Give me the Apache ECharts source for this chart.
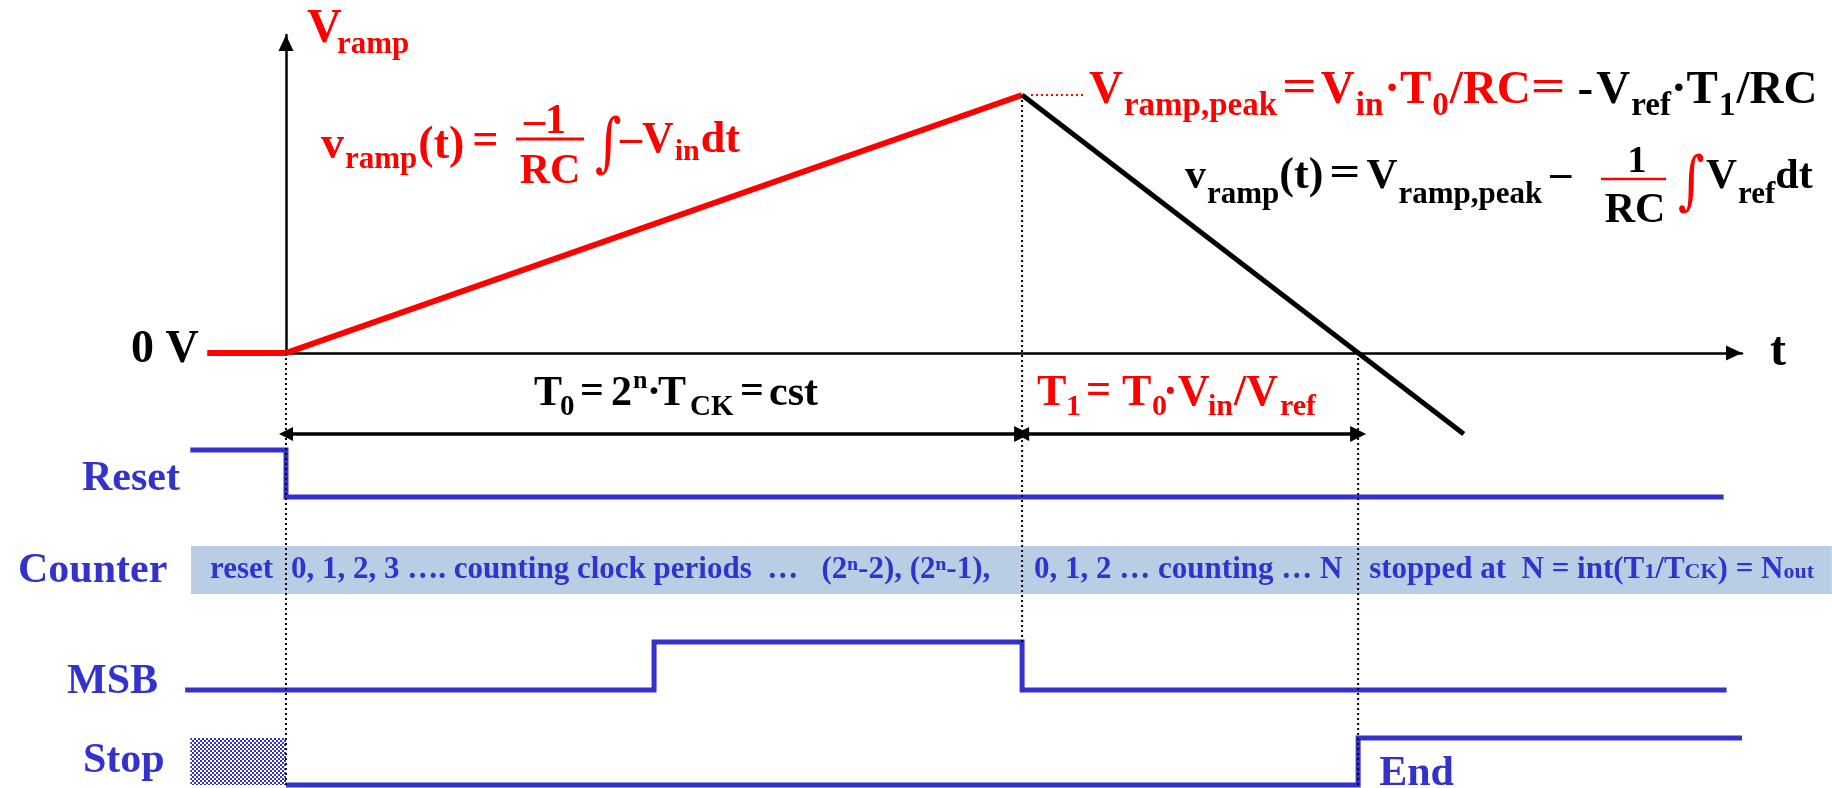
<!DOCTYPE html>
<html>
<head>
<meta charset="utf-8">
<script src="https://cdn.jsdelivr.net/npm/echarts@6/dist/echarts.min.js"></script>
<style>
  html, body { margin: 0; padding: 0; background: #ffffff; }
  #chart { width: 1832px; height: 788px; }
</style>
</head>
<body>
<div id="chart"></div>
<script>
// ---- Timing of a dual-slope ADC (time unit: T0 = 1) ----
const T0 = 1;
const T1 = 0.4565;                 // de-integration time T1 = T0 * Vin / Vref
const T_MIN = -0.15;
const T_AXIS_END = 1.978;

// integrator output, normalised to Vramp,peak = 1
const chargeT = [-0.107, 0, 1];
const chargeV = [0, 0, 1];
const dischargeT = [1, 1.6];
const dischargeV = [1, -0.314];

// digital signals (0 = low, 1 = high)
const resetT = [-0.13, 0, 1.953];
const resetLevel = [1, 0, 0];
const msbT = [-0.137, 0.5, 1, 1.957];
const msbLevel = [0, 1, 0, 0];
const stopT = [0, 1.4565, 1.978];
const stopLevel = [0, 1, 1];
const stopUnknownSpan = [-0.13, 0];

// counter contents per phase
const counterSpan = [-0.129, 2.1];
const counterPhaseStart = [-0.129, 0, 1, 1.4565];
const counterPhaseText = [
  [['reset']],
  [['0, 1, 2, 3 …. counting clock periods  …   (2ⁿ-2), (2ⁿ-1),']],
  [['0, 1, 2 … counting … N']],
  [['stopped at  N = int(T'], ['1', 1], ['/T'], ['CK', 1], [') = N'], ['out', 1]]
];

const signalNames = ['Reset', 'Counter', 'MSB', 'Stop'];
const endLabel = 'End';

// ---- styling ----
const SERIF = '"Liberation Serif", "Times New Roman", serif';
const RED = '#ff0000', BLUE = '#3333cc', BLACK = '#000000', BAND = '#b9cde5';

const pairs = (xs, ys) => xs.map((x, i) => [x, ys[i]]);

const chart = echarts.init(document.getElementById('chart'), null, { renderer: 'canvas' });

// axes grid starts at t = 0; data grids share the same scale but reach back to T_MIN
const AXIS_L = 286, GRID_R = 90;
const PX_PER_T = (1832 - AXIS_L - GRID_R) / T_AXIS_END;
const DATA_L = AXIS_L + T_MIN * PX_PER_T;
const RAMP_BOX = { top: 35, bottom: 435 };
const grids = [
  Object.assign({ left: AXIS_L, right: GRID_R }, RAMP_BOX),          // 0: ramp axes
  Object.assign({ left: DATA_L, right: GRID_R }, RAMP_BOX),          // 1: ramp curves
  { left: DATA_L, right: GRID_R, top: 450, height: 47 },             // 2: reset
  { left: DATA_L, right: GRID_R, top: 546, height: 48 },             // 3: counter
  { left: DATA_L, right: GRID_R, top: 642, height: 48 },             // 4: msb
  { left: DATA_L, right: GRID_R, top: 738, height: 47 }              // 5: stop
];
const G = { axes: 0, ramp: 1, reset: 2, counter: 3, msb: 4, stop: 5 };
const V_MAX = 1.2326;

const hidden = { axisTick: { show: false }, axisLabel: { show: false }, splitLine: { show: false } };
const arrowLine = {
  show: true, onZero: true,
  symbol: ['none', 'triangle'], symbolSize: [15, 16], symbolOffset: [0, -8],
  lineStyle: { color: BLACK, width: 2.5 }
};
const xAxes = grids.map((g, i) => Object.assign({
  type: 'value', gridIndex: i, min: i === 0 ? 0 : T_MIN, max: T_AXIS_END,
  show: i === 0, axisLine: i === 0 ? arrowLine : { show: false }
}, hidden));
const yAxes = grids.map((g, i) => Object.assign({
  type: 'value', gridIndex: i, min: 0, max: i <= 1 ? V_MAX : 1,
  show: i === 0, axisLine: i === 0 ? arrowLine : { show: false }
}, hidden));

// dimension line level, below the time axis
const DIM_LEVEL = -0.314;

// checkered fill for the undefined Stop state
const pat = document.createElement('canvas');
pat.width = 4; pat.height = 4;
const pctx = pat.getContext('2d');
pctx.fillStyle = '#ffffff'; pctx.fillRect(0, 0, 4, 4);
pctx.fillStyle = BLUE; pctx.fillRect(0, 0, 2, 2); pctx.fillRect(2, 2, 2, 2);

function spanRect(fill) {
  return function (params, api) {
    const a = api.coord([api.value(0), 0]);
    const b = api.coord([api.value(1), 1]);
    return { type: 'rect', shape: { x: a[0], y: b[1], width: b[0] - a[0], height: a[1] - b[1] }, style: { fill: fill } };
  };
}

const lineSeries = (gi, data, color, width, extra) => Object.assign({
  type: 'line', xAxisIndex: gi, yAxisIndex: gi, data: data, symbol: 'none', clip: false, silent: true,
  lineStyle: { color: color, width: width, cap: 'butt', join: 'miter' }
}, extra || {});

chart.setOption({
  animation: false,
  grid: grids,
  xAxis: xAxes,
  yAxis: yAxes,
  series: [
    { type: 'custom', xAxisIndex: G.counter, yAxisIndex: G.counter, clip: false, silent: true, z: 1,
      data: [counterSpan], renderItem: spanRect(BAND) },
    { type: 'custom', xAxisIndex: G.stop, yAxisIndex: G.stop, clip: false, silent: true, z: 1,
      data: [stopUnknownSpan], renderItem: spanRect({ image: pat, repeat: 'repeat' }) },
    lineSeries(G.ramp, pairs(chargeT, chargeV), RED, 6),
    lineSeries(G.ramp, pairs(dischargeT, dischargeV), BLACK, 5),
    lineSeries(G.ramp, [[T0 + 0.012, 1], [T0 + 0.084, 1]], RED, 2, { lineStyle: { color: RED, width: 2, type: [2, 3] } }),
    lineSeries(G.reset, pairs(resetT, resetLevel), BLUE, 5, { step: 'end' }),
    lineSeries(G.msb, pairs(msbT, msbLevel), BLUE, 5, { step: 'end' }),
    lineSeries(G.stop, pairs(stopT, stopLevel), BLUE, 5, { step: 'end' }),
    { type: 'lines', coordinateSystem: 'cartesian2d', xAxisIndex: G.ramp, yAxisIndex: G.ramp, clip: false, silent: true,
      symbol: ['triangle', 'triangle'], symbolSize: [14, 16],
      lineStyle: { color: BLACK, width: 3.5, opacity: 1, curveness: 0 },
      data: [
        { coords: [[0, DIM_LEVEL], [T0, DIM_LEVEL]] },
        { coords: [[T0, DIM_LEVEL], [T0 + T1, DIM_LEVEL]] }
      ] }
  ]
});

// ---- annotations ----
const mctx = document.createElement('canvas').getContext('2d');
const fontOf = (size, weight, family) => `${weight || 'bold'} ${size}px ${family || SERIF}`;
function measure(text, font) {
  mctx.font = font;
  mctx.textBaseline = 'alphabetic';
  const m = mctx.measureText(text);
  const asc = m.fontBoundingBoxAscent;
  mctx.textBaseline = 'middle';
  const mid = mctx.measureText(text).fontBoundingBoxAscent;
  mctx.textBaseline = 'alphabetic';
  return { width: m.width, off: (asc != null && mid != null) ? asc - mid : 0.3375 * parseFloat(font.match(/(\d+)px/)[1]) };
}
const gfx = [];
// text placed on an alphabetic baseline; returns the x where it ends
function put(text, x, base, size, color, opt) {
  opt = opt || {};
  const font = fontOf(size, opt.weight, opt.family);
  const m = measure(text, font);
  const sx = opt.sx || 1;
  gfx.push({ type: 'text', x: x, y: base - m.off, z: 50, silent: true, scaleX: sx,
    style: { text: text, font: font, fill: color, align: opt.align || 'left', verticalAlign: 'middle' } });
  return x + m.width * sx;
}
// run of pieces: [text, size, baseline, color, gapBefore, opt]
function chain(x, items) {
  items.forEach(it => { x = put(it[0], x + (it[4] || 0), it[2], it[1], it[3], it[5]); });
  return x;
}
function hline(x1, x2, y, color, w, dash) {
  gfx.push({ type: 'line', z: 40, silent: true, shape: { x1: x1, y1: y, x2: x2, y2: y },
    style: { stroke: color, lineWidth: w, lineDash: dash || null } });
}
function vline(x, y1, y2, color, w, dash) {
  gfx.push({ type: 'line', z: 40, silent: true, shape: { x1: x, y1: y1, x2: x, y2: y2 },
    style: { stroke: color, lineWidth: w, lineDash: dash || null } });
}
function integral(cx, cy, size, color) {
  gfx.push({ type: 'text', x: cx, y: cy, z: 50, silent: true, scaleX: 0.8,
    style: { text: '∫', font: `normal ${size}px "DejaVu Serif", serif`, fill: color, align: 'center', verticalAlign: 'middle' } });
}

const px = (grid, pt) => chart.convertToPixel({ gridIndex: grid }, pt);

// dotted timing guides
const dash = [2, 3];
const g0 = px(G.ramp, [0, 0]), gBottom = px(G.stop, [0, 0]);
vline(g0[0], g0[1], gBottom[1], BLACK, 2, dash);
const gPeak = px(G.ramp, [T0, 1]), gMsbHigh = px(G.msb, [T0, 1]);
vline(gPeak[0], gPeak[1], gMsbHigh[1], BLACK, 2, dash);
const gEnd = px(G.ramp, [T0 + T1, 0]);
vline(gEnd[0], gEnd[1], gBottom[1], BLACK, 2, dash);

// axis labels
put('V', 307, 42, 48, RED);
put('ramp', 337, 53, 31, RED);
put('0 V', 131, 362, 46, BLACK);
put('t', 1770, 365, 48, BLACK);

// vramp(t) = -1/RC ∫ -Vin dt
chain(321, [
  ['v', 46, 158, RED], ['ramp', 31, 168, RED, 1], ['(t)', 46, 158, RED, 1], ['=', 46, 154, RED, 8]
]);
put('–1', 545, 133, 42, RED, { align: 'center' });
hline(516, 584, 139, RED, 3);
put('RC', 550, 183, 42, RED, { align: 'center' });
integral(608, 147, 64, RED);
chain(620, [['–V', 44, 152, RED], ['in', 30, 160, RED, 1], ['dt', 44, 152, RED, 1]]);

// Vramp,peak = Vin·T0/RC = -Vref·T1/RC
chain(1089, [
  ['V', 47, 103, RED], ['ramp,peak', 33, 115, RED, 1],
  ['=', 47, 101, RED, 5, { sx: 1.3 }],
  ['V', 47, 103, RED, 4], ['in', 33, 115, RED, 1], ['·T', 47, 103, RED, 1], ['0', 33, 115, RED, 1],
  ['/RC', 47, 103, RED, 1], ['=', 47, 101, RED, 0, { sx: 1.3 }],
  ['-', 47, 103, BLACK, 12], ['V', 47, 103, BLACK, 3], ['ref', 33, 115, BLACK, 1],
  ['·T', 47, 103, BLACK, 0], ['1', 33, 115, BLACK, 1], ['/RC', 47, 103, BLACK, 1]
]);

// vramp(t) = Vramp,peak - 1/RC ∫ Vref dt
chain(1185, [
  ['v', 42, 188, BLACK], ['ramp', 31, 203, BLACK, 1], ['(t)', 44, 188, BLACK, 0],
  ['=', 42, 185, BLACK, 6, { sx: 1.3 }],
  ['V', 43, 188, BLACK, 6], ['ramp,peak', 31, 203, BLACK, 1], ['–', 42, 186, BLACK, 8]
]);
put('1', 1637, 172, 38, BLACK, { align: 'center' });
hline(1601, 1666, 179, RED, 2.5);
put('RC', 1635, 222, 42, BLACK, { align: 'center' });
integral(1691, 185, 64, RED);
chain(1706, [['V', 43, 188, BLACK], ['ref', 31, 203, BLACK, 1], ['dt', 42, 188, BLACK, 0]]);

// T0 = 2^n·TCK = cst
put('T', 534, 405, 42, BLACK);
put('0', 560, 415, 29, BLACK);
put('=', 580, 403, 42, BLACK);
put('2', 611, 405, 42, BLACK);
put('n', 633, 388, 26, BLACK);
put('·', 647, 405, 42, BLACK);
put('T', 658, 405, 42, BLACK);
put('CK', 690, 415, 29, BLACK);
put('=', 740, 403, 42, BLACK);
put('cst', 769, 405, 42, BLACK);

// T1 = T0·Vin/Vref
put('T', 1037, 405, 44, RED);
put('1', 1066, 415, 30, RED);
put('=', 1086, 403, 44, RED);
put('T', 1122, 405, 44, RED);
put('0', 1152, 415, 30, RED);
put('·V', 1163, 405, 44, RED);
put('in', 1208, 415, 30, RED);
put('/V', 1234, 405, 44, RED);
put('ref', 1280, 415, 30, RED);

// signal names
const nameLayout = [[82, 490], [18, 582], [67, 693], [83, 772]];
signalNames.forEach((n, i) => put(n, nameLayout[i][0], nameLayout[i][1], 42, BLUE));
const endPt = px(G.stop, [stopT[1], 1]);
put(endLabel, endPt[0] + 21, 785, 42, BLUE);

// counter contents
const COUNTER_BASE = 578;
const phasePad = [19, 5, 12, 11];
counterPhaseText.forEach((pieces, i) => {
  let cx = px(G.counter, [counterPhaseStart[i], 0])[0] + phasePad[i];
  pieces.forEach(p => { cx = put(p[0], cx, COUNTER_BASE, p[1] ? 22 : 31, BLUE); });
});

chart.setOption({ graphic: { elements: gfx } });
</script>
</body>
</html>
